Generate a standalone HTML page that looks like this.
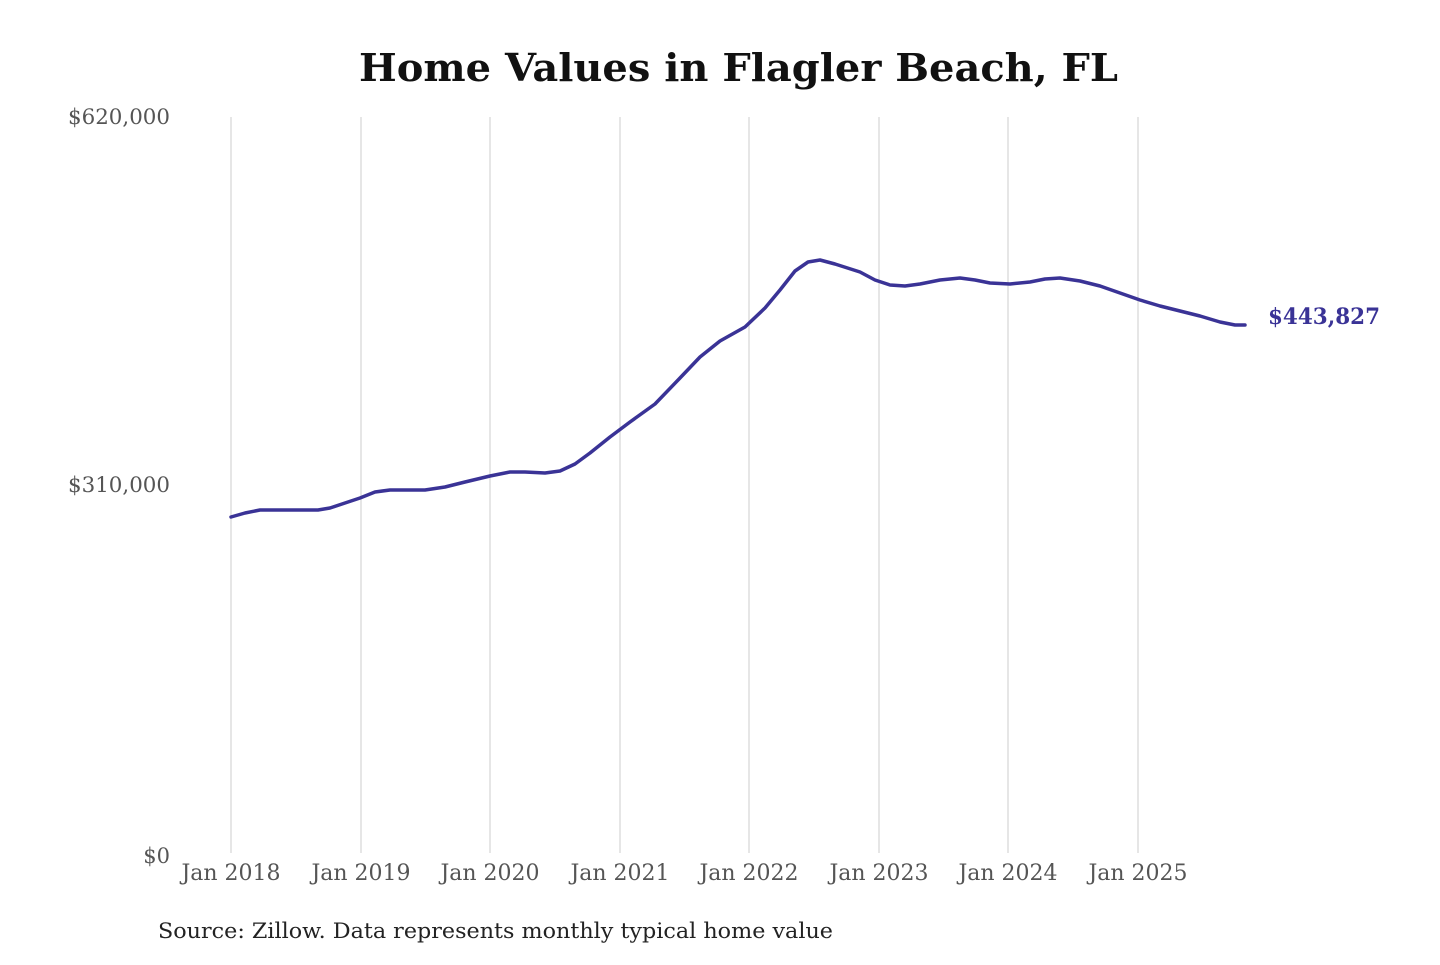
<!DOCTYPE html>
<html><head><style>
body{margin:0;background:#fff;width:1440px;height:960px;overflow:hidden}
svg text{font-family:"DejaVu Serif","Liberation Serif",serif}
</style></head><body>
<svg width="1440" height="960" xmlns="http://www.w3.org/2000/svg">
<text x="359" y="81" font-size="38" font-weight="bold" fill="#111" textLength="759" lengthAdjust="spacingAndGlyphs">Home Values in Flagler Beach, FL</text>
<g stroke="#cccccc" stroke-width="1">
<line x1="231" y1="117" x2="231" y2="853"/><line x1="361" y1="117" x2="361" y2="853"/>
<line x1="490" y1="117" x2="490" y2="853"/><line x1="620" y1="117" x2="620" y2="853"/>
<line x1="749" y1="117" x2="749" y2="853"/><line x1="879" y1="117" x2="879" y2="853"/>
<line x1="1008" y1="117" x2="1008" y2="853"/><line x1="1138" y1="117" x2="1138" y2="853"/>
</g>
<g font-size="21" fill="#555" text-anchor="end">
<text x="170" y="124" textLength="102" lengthAdjust="spacingAndGlyphs">$620,000</text>
<text x="170" y="492" textLength="102" lengthAdjust="spacingAndGlyphs">$310,000</text>
<text x="170" y="863">$0</text>
</g>
<g font-size="22" fill="#555" text-anchor="middle">
<text x="231" y="880">Jan 2018</text><text x="361" y="880">Jan 2019</text>
<text x="490" y="880">Jan 2020</text><text x="620" y="880">Jan 2021</text>
<text x="749" y="880">Jan 2022</text><text x="879" y="880">Jan 2023</text>
<text x="1008" y="880">Jan 2024</text><text x="1138" y="880">Jan 2025</text>
</g>
<polyline fill="none" stroke="#3a3396" stroke-width="3.5" stroke-linejoin="round" stroke-linecap="round" points="231,517 245,513 260,510 280,510 300,510 318,510 330,508 345,503 360,498 375,492 390,490 410,490 425,490 445,487 465,482 490,476 510,472 525,472 545,473 560,471 575,464 590,453 610,437 630,422 655,404 680,378 700,357 720,341 745,327 765,308 780,290 795,271 808,262 820,260 835,264 860,272 875,280 890,285 905,286 920,284 940,280 960,278 975,280 990,283 1010,284 1030,282 1045,279 1060,278 1080,281 1100,286 1120,293 1140,300 1160,306 1180,311 1200,316 1220,322 1235,325 1245,325"/>
<text x="1268" y="324" font-size="22" font-weight="bold" fill="#3a3396" textLength="112" lengthAdjust="spacingAndGlyphs">$443,827</text>
<text x="158" y="938" font-size="21" fill="#222" textLength="675" lengthAdjust="spacingAndGlyphs">Source: Zillow. Data represents monthly typical home value</text>
</svg>
</body></html>
